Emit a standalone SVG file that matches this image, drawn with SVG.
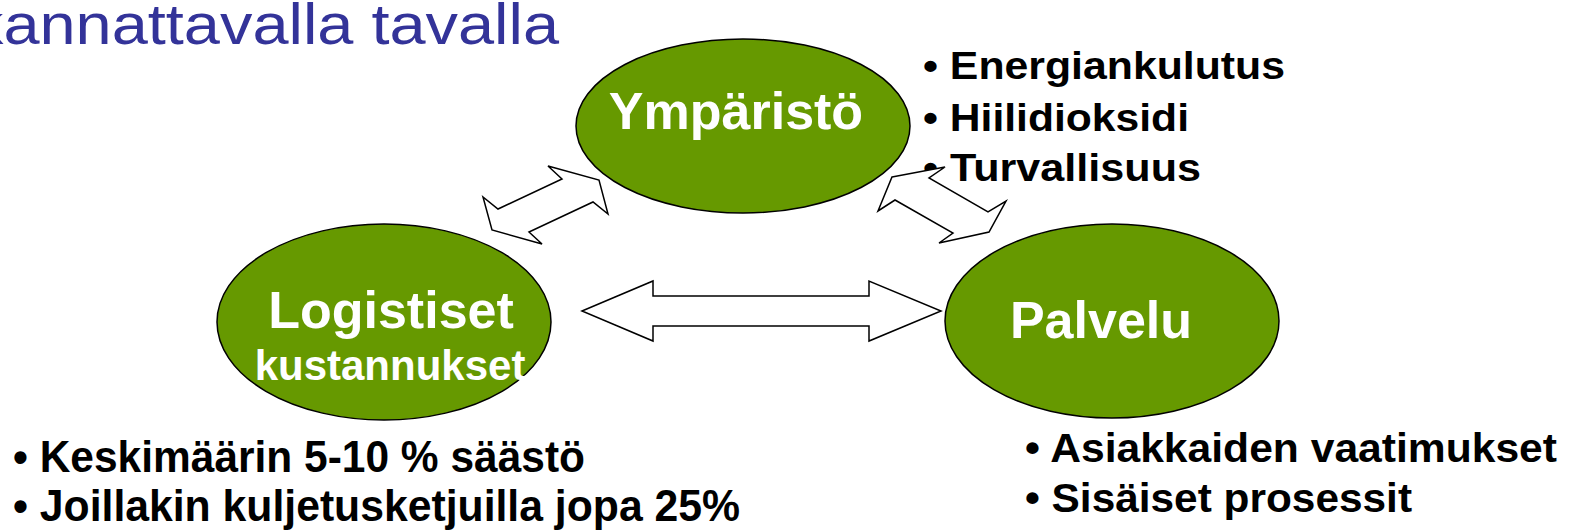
<svg xmlns="http://www.w3.org/2000/svg" width="1572" height="530" viewBox="0 0 1572 530">
<style>
.node{fill:#669900;stroke:#000;stroke-width:1.5}
.lbl{font-family:"Liberation Sans",Arial,sans-serif;font-weight:bold;fill:#fff;text-anchor:middle}
.bul{font-family:"Liberation Sans",Arial,sans-serif;font-weight:bold;fill:#000}
.arrow{fill:#fff;stroke:#000;stroke-width:1.5;stroke-linejoin:miter}
.title{font-family:"Liberation Sans",Arial,sans-serif;fill:#333399}
</style>
<rect width="1572" height="530" fill="#fff"/>
<text class="title" x="-29" y="44" font-size="58" textLength="588" lengthAdjust="spacingAndGlyphs">kannattavalla tavalla</text>
<g id="ymparisto">
<ellipse class="node" cx="743" cy="126" rx="167" ry="87"/>
<text class="lbl" x="736" y="129" font-size="52">Ympäristö</text>
</g>
<g id="logistiset">
<ellipse class="node" cx="384" cy="322" rx="167" ry="98"/>
<text class="lbl" x="391" y="328" font-size="52">Logistiset</text>
<text class="lbl" x="390" y="380" font-size="42">kustannukset</text>
</g>
<g id="palvelu">
<ellipse class="node" cx="1112" cy="321" rx="167" ry="97"/>
<text class="lbl" x="1101" y="338" font-size="52">Palvelu</text>
</g>
<g id="ymparisto-list">
<text class="bul" x="923" y="79" font-size="38" textLength="362" lengthAdjust="spacingAndGlyphs">• Energiankulutus</text>
<text class="bul" x="923" y="131" font-size="38" textLength="266" lengthAdjust="spacingAndGlyphs">• Hiilidioksidi</text>
<text class="bul" x="923" y="181" font-size="38" textLength="278" lengthAdjust="spacingAndGlyphs">• Turvallisuus</text>
</g>
<g id="logistiset-list">
<text class="bul" x="13" y="472" font-size="44" textLength="572" lengthAdjust="spacingAndGlyphs">• Keskimäärin 5-10 % säästö</text>
<text class="bul" x="13" y="521" font-size="44" textLength="727" lengthAdjust="spacingAndGlyphs">• Joillakin kuljetusketjuilla jopa 25%</text>
</g>
<g id="palvelu-list">
<text class="bul" x="1025" y="462" font-size="40" textLength="532" lengthAdjust="spacingAndGlyphs">• Asiakkaiden vaatimukset</text>
<text class="bul" x="1025" y="512" font-size="40" textLength="387" lengthAdjust="spacingAndGlyphs">• Sisäiset prosessit</text>
</g>
<g id="connectors">
<polygon class="arrow" points="548,166 599,180 608,214 593,202 529,232 542,244 492,230 483,197 498,209 562,179"/>
<polygon class="arrow" points="892,177 945,167 929,178 988,212 1006,201 989,232 939,243 953,233 895,200 878,211"/>
<polygon class="arrow" points="582,311 653,281 653,296 869,296 869,281 941,311 869,341 869,326 653,326 653,341"/>
</g>
</svg>
